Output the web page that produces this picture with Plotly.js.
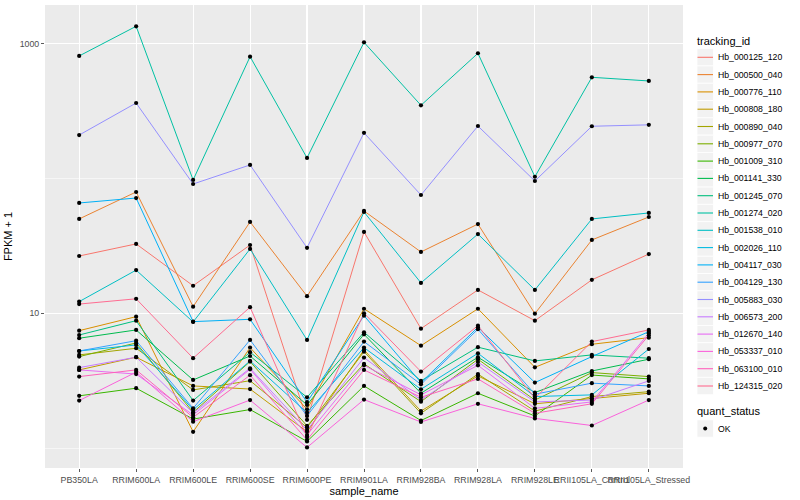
<!DOCTYPE html>
<html>
<head>
<meta charset="utf-8">
<script src="https://cdn.plot.ly/plotly-3.0.1.min.js"></script>
<style>html,body{margin:0;padding:0;background:#fff;}#chart{width:800px;height:500px;}</style>
</head>
<body>
<div id="chart"></div>
<script>
// x categories
const samples = ['PB350LA','RRIM600LA','RRIM600LE','RRIM600SE','RRIM600PE','RRIM901LA','RRIM928BA','RRIM928LA','RRIM928LE','RRII105LA_Control','RRII105LA_Stressed'];

// FPKM + 1 per gene, one value per sample
const Hb_000125_120 = [26.6, 32.7, 16.0, 32.1, 1.62, 40.1, 7.69, 14.9, 8.81, 17.7, 27.5];
const Hb_000500_040 = [50.1, 79.4, 11.2, 47.6, 13.4, 57.4, 28.5, 45.9, 9.93, 35.0, 51.8];
const Hb_000776_110 = [7.43, 9.44, 1.32, 5.56, 1.94, 10.8, 5.75, 10.8, 3.97, 5.89, 6.59];
const Hb_000808_180 = [3.80, 4.72, 2.89, 2.74, 1.32, 5.35, 1.88, 3.43, 2.13, 2.34, 2.55];
const Hb_000890_040 = [4.91, 5.50, 2.70, 3.16, 1.42, 5.19, 1.81, 3.54, 1.88, 2.41, 2.62];
const Hb_000977_070 = [4.77, 6.02, 1.84, 4.38, 1.46, 4.21, 2.21, 4.56, 2.27, 3.63, 3.39];
const Hb_001009_310 = [2.44, 2.78, 1.64, 1.93, 1.12, 2.89, 1.60, 2.55, 1.73, 3.48, 3.26];
const Hb_001141_330 = [6.53, 7.52, 3.20, 4.82, 2.09, 6.98, 2.55, 4.72, 2.58, 3.73, 4.56];
const Hb_001245_070 = [6.90, 8.81, 2.25, 5.14, 2.38, 7.23, 3.15, 5.60, 4.43, 4.91, 4.64];
const Hb_001274_020 = [811, 1346, 97.5, 801, 142, 1023, 349, 849, 103, 563, 529];
const Hb_001538_010 = [12.2, 20.9, 8.62, 30.0, 6.34, 56.4, 16.8, 38.7, 14.9, 50.1, 55.5];
const Hb_002026_110 = [5.25, 5.82, 1.92, 4.43, 1.83, 5.56, 2.73, 5.05, 2.41, 2.48, 5.43];
const Hb_004117_030 = [65.8, 71.6, 8.67, 9.02, 2.19, 9.60, 3.06, 7.87, 3.06, 4.77, 7.30];
const Hb_004129_130 = [5.25, 6.26, 1.97, 6.34, 1.73, 6.16, 2.97, 7.61, 2.51, 3.03, 2.89];
const Hb_005883_030 = [210, 363, 91, 126, 30.6, 218, 75.4, 245, 95.8, 244, 250];
const Hb_006573_200 = [3.95, 4.72, 1.82, 3.91, 1.36, 4.69, 2.27, 4.35, 2.20, 2.27, 3.15];
const Hb_012670_140 = [3.80, 3.54, 1.76, 3.84, 1.25, 4.11, 2.48, 4.11, 1.97, 2.20, 7.11];
const Hb_053337_010 = [2.25, 3.66, 1.57, 2.27, 1.01, 2.29, 1.56, 2.13, 1.66, 1.47, 2.27];
const Hb_063100_010 = [3.39, 3.80, 1.69, 3.47, 1.15, 3.80, 2.38, 3.26, 1.81, 2.13, 6.87];
const Hb_124315_020 = [11.7, 12.8, 4.64, 11.1, 1.21, 10.0, 3.69, 8.09, 2.34, 6.16, 7.52];

const trackingIds = ['Hb_000125_120','Hb_000500_040','Hb_000776_110','Hb_000808_180','Hb_000890_040','Hb_000977_070','Hb_001009_310','Hb_001141_330','Hb_001245_070','Hb_001274_020','Hb_001538_010','Hb_002026_110','Hb_004117_030','Hb_004129_130','Hb_005883_030','Hb_006573_200','Hb_012670_140','Hb_053337_010','Hb_063100_010','Hb_124315_020'];
const seriesValues = [Hb_000125_120, Hb_000500_040, Hb_000776_110, Hb_000808_180, Hb_000890_040, Hb_000977_070, Hb_001009_310, Hb_001141_330, Hb_001245_070, Hb_001274_020, Hb_001538_010, Hb_002026_110, Hb_004117_030, Hb_004129_130, Hb_005883_030, Hb_006573_200, Hb_012670_140, Hb_053337_010, Hb_063100_010, Hb_124315_020];
const lineColors = ['#F8766D','#EA8331','#D89000','#C09B00','#A3A500','#7CAE00','#39B600','#00BB4E','#00BF7D','#00C1A3','#00BFC4','#00BAE0','#00B0F6','#35A2FF','#9590FF','#C77CFF','#E76BF3','#FA62DB','#FF62BC','#FF6C91'];
const quantStatus = ['OK'];
const yTickVals = [10, 1000];
const yTickText = ['10', '1000'];
const yMinorVals = [1, 100];

const FONT = 'Liberation Sans, Arial, Helvetica, sans-serif';
// plot panel in pixels (used only to place the hand-made ggplot-style legend)
const M = {l: 45, r: 117, t: 5, b: 32};
const PW = 800 - M.l - M.r, PH = 500 - M.t - M.b;
const pxX = p => (p - M.l) / PW;
const pxY = p => (500 - M.b - p) / PH;

const traces = [];
trackingIds.forEach((id, i) => {
  traces.push({
    type: 'scatter', mode: 'lines', name: id,
    x: samples, y: seriesValues[i],
    line: {color: lineColors[i], width: 1},
    showlegend: false, hoverinfo: 'skip'
  });
});
// points (quant_status)
const px = [], py = [];
seriesValues.forEach(v => v.forEach((val, j) => { px.push(samples[j]); py.push(val); }));
traces.push({
  type: 'scatter', mode: 'markers', name: quantStatus[0],
  x: px, y: py,
  marker: {color: '#000', size: 4.2, line: {width: 0}},
  showlegend: false, hoverinfo: 'skip'
});

// ggplot-style legends
const shapes = [], annotations = [];
const keyX0 = 697, keyX1 = 713.5, textX = 716, firstY = 57.3, step = 17.3;
annotations.push({xref: 'paper', yref: 'paper', x: pxX(695), y: pxY(40.7), xanchor: 'left', yanchor: 'middle',
  text: 'tracking_id', showarrow: false, font: {family: FONT, size: 11, color: '#000'}});
trackingIds.forEach((id, i) => {
  const c = firstY + i * step;
  shapes.push({type: 'rect', xref: 'paper', yref: 'paper', x0: pxX(keyX0), x1: pxX(keyX1),
    y0: pxY(c + step / 2), y1: pxY(c - step / 2), fillcolor: '#F2F2F2', line: {color: '#fff', width: 0.8}, layer: 'above'});
  shapes.push({type: 'line', xref: 'paper', yref: 'paper', x0: pxX(keyX0 + 0.5), x1: pxX(keyX1 - 0.5),
    y0: pxY(c), y1: pxY(c), line: {color: lineColors[i], width: 1.1}, layer: 'above'});
  annotations.push({xref: 'paper', yref: 'paper', x: pxX(textX), y: pxY(c), xanchor: 'left', yanchor: 'middle',
    text: id, showarrow: false, font: {family: FONT, size: 8.7, color: '#000'}});
});
const qTitleY = 411, qItemY = 428.5;
annotations.push({xref: 'paper', yref: 'paper', x: pxX(695), y: pxY(qTitleY), xanchor: 'left', yanchor: 'middle',
  text: 'quant_status', showarrow: false, font: {family: FONT, size: 11, color: '#000'}});
shapes.push({type: 'rect', xref: 'paper', yref: 'paper', x0: pxX(keyX0), x1: pxX(keyX1),
  y0: pxY(qItemY + step / 2), y1: pxY(qItemY - step / 2), fillcolor: '#F2F2F2', line: {color: '#fff', width: 0.8}, layer: 'above'});
shapes.push({type: 'circle', xref: 'paper', yref: 'paper', x0: pxX(703.2), x1: pxX(707.2),
  y0: pxY(qItemY + 2), y1: pxY(qItemY - 2), fillcolor: '#000', line: {width: 0}, layer: 'above'});
annotations.push({xref: 'paper', yref: 'paper', x: pxX(textX), y: pxY(qItemY), xanchor: 'left', yanchor: 'middle',
  text: quantStatus[0], showarrow: false, font: {family: FONT, size: 8.7, color: '#000'}});

const layout = {
  width: 800, height: 500,
  margin: M,
  paper_bgcolor: '#fff', plot_bgcolor: '#EBEBEB',
  font: {family: FONT, color: '#000'},
  showlegend: false,
  xaxis: {
    type: 'category', range: [-0.6, 10.6],
    showgrid: true, gridcolor: '#fff', gridwidth: 1.1,
    zeroline: false, showline: false,
    ticks: 'outside', ticklen: 3, tickwidth: 0.8, tickcolor: '#333',
    tickfont: {family: FONT, size: 8.8, color: '#4D4D4D'},
    tickangle: 0,
    title: {text: 'sample_name', font: {family: FONT, size: 11, color: '#000'}, standoff: 2}
  },
  yaxis: {
    type: 'log', range: [-0.148, 3.287],
    tickmode: 'array', tickvals: yTickVals, ticktext: yTickText,
    showgrid: true, gridcolor: '#fff', gridwidth: 1.1,
    minor: {tickmode: 'array', tickvals: yMinorVals, showgrid: true, gridcolor: '#fff', gridwidth: 0.55, ticks: ''},
    zeroline: false, showline: false,
    ticks: 'outside', ticklen: 3, tickwidth: 0.8, tickcolor: '#333',
    tickfont: {family: FONT, size: 8.8, color: '#4D4D4D'},
    title: {text: 'FPKM + 1', font: {family: FONT, size: 11, color: '#000'}, standoff: 4}
  },
  shapes: shapes,
  annotations: annotations
};

Plotly.newPlot('chart', traces, layout, {staticPlot: true, displayModeBar: false});
</script>
</body>
</html>
